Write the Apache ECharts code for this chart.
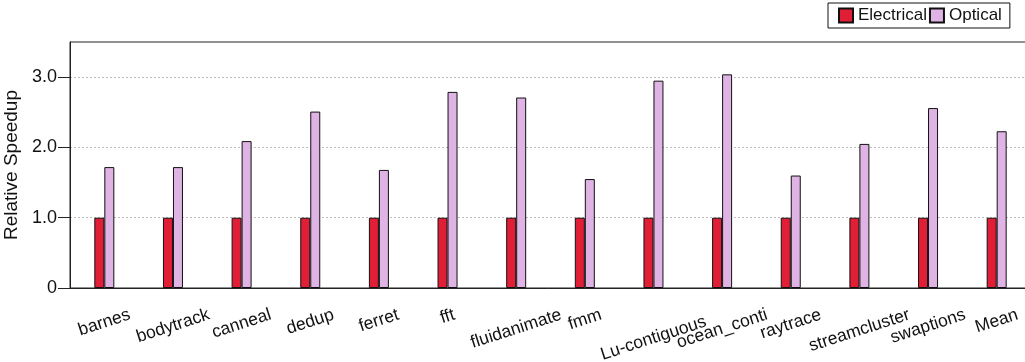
<!DOCTYPE html>
<html>
<head>
<meta charset="utf-8">
<script src="https://cdn.jsdelivr.net/npm/echarts@6/dist/echarts.min.js"></script>
<style>
  html, body { margin: 0; padding: 0; background: #fff; }
  #chart { width: 1025px; height: 362px; }
</style>
</head>
<body>
<div id="chart"></div>
<script>
// Benchmarks and relative speedups (Electrical is the baseline)
const categories = ['barnes', 'bodytrack', 'canneal', 'dedup', 'ferret', 'fft', 'fluidanimate',
  'fmm', 'Lu-contiguous', 'ocean_conti', 'raytrace', 'streamcluster', 'swaptions', 'Mean'];
const electrical = [1.0, 1.0, 1.0, 1.0, 1.0, 1.0, 1.0, 1.0, 1.0, 1.0, 1.0, 1.0, 1.0, 1.0];
const optical = [1.72, 1.72, 2.09, 2.51, 1.68, 2.79, 2.71, 1.55, 2.95, 3.04, 1.60, 2.05, 2.56, 2.23];
const yTicks = [0, 1, 2, 3];
const yTickLabels = ['0', '1.0', '2.0', '3.0'];

const FONT = "'Liberation Sans', Arial, Helvetica, sans-serif";
const LABEL_SIZE = 17.5;
const LABEL_ANGLE = 18 * Math.PI / 180;
const LABEL_TOP = 18; // gap between the axis line and the top of each slanted label
// Lu-contiguous sits a little lower so it clears its neighbours
const LABEL_NUDGE = { 'Lu-contiguous': [0, 7] };

const measureCtx = document.createElement('canvas').getContext('2d');
measureCtx.font = LABEL_SIZE + 'px ' + FONT;

// Slanted category names, centred under each tick and hung from a common top line
function renderCategoryLabel(params, api) {
  const idx = api.value(0);
  const base = api.coord([idx, 0]);
  const text = categories[idx];
  const w = measureCtx.measureText(text).width;
  const boxH = w * Math.sin(LABEL_ANGLE) + LABEL_SIZE * Math.cos(LABEL_ANGLE);
  const nudge = LABEL_NUDGE[text] || [0, 0];
  return {
    type: 'text',
    x: base[0] + nudge[0],
    y: base[1] + LABEL_TOP + boxH / 2 + nudge[1],
    rotation: LABEL_ANGLE,
    style: {
      text: text,
      fill: '#111',
      font: LABEL_SIZE + 'px ' + FONT,
      align: 'center',
      verticalAlign: 'middle'
    }
  };
}

const chart = echarts.init(document.getElementById('chart'));
chart.setOption({
  animation: false,
  backgroundColor: '#fff',
  grid: {
    left: 70, right: -6, top: 42, bottom: 74,
    outerBoundsMode: 'none',
    containLabel: false,
    show: true, borderColor: '#222', borderWidth: 1
  },
  legend: {
    data: ['Electrical', 'Optical'],
    left: 828, top: 3,
    icon: 'rect',
    itemWidth: 14, itemHeight: 14, itemGap: 2,
    padding: [4, 8, 4, 10],
    borderColor: '#111', borderWidth: 1,
    textStyle: { fontSize: 17, color: '#111', fontFamily: FONT }
  },
  xAxis: {
    type: 'category',
    data: categories,
    axisLine: { lineStyle: { color: '#222', width: 1 } },
    axisTick: { alignWithLabel: true, length: 12, lineStyle: { color: '#555' } },
    axisLabel: { show: false },
    splitLine: { show: false }
  },
  yAxis: {
    type: 'value',
    min: 0, max: 3.5, interval: 1,
    name: 'Relative Speedup',
    nameLocation: 'middle',
    nameGap: 45,
    nameTextStyle: { fontSize: 19, color: '#111', fontFamily: FONT },
    axisLine: { show: true, lineStyle: { color: '#222', width: 1 } },
    axisTick: { show: true, length: 12, lineStyle: { color: '#222' }, customValues: yTicks },
    axisLabel: {
      margin: 13, fontSize: 18, color: '#111', fontFamily: FONT,
      customValues: yTicks,
      formatter: v => yTickLabels[yTicks.indexOf(v)] ?? ''
    },
    splitLine: { show: true, lineStyle: { color: '#bbb', type: [2, 2], width: 1 } }
  },
  series: [
    {
      name: 'Electrical', type: 'bar', data: electrical,
      barWidth: 10, barGap: '0%',
      itemStyle: { color: '#E01F36', borderColor: '#111', borderWidth: 1 }
    },
    {
      name: 'Optical', type: 'bar', data: optical,
      barWidth: 10, barGap: '0%',
      itemStyle: { color: '#DFB3E3', borderColor: '#111', borderWidth: 1 }
    },
    {
      type: 'custom',
      data: categories.map((c, i) => [i, 0]),
      renderItem: renderCategoryLabel,
      silent: true,
      clip: false,
      z: 5
    }
  ]
});
</script>
</body>
</html>
